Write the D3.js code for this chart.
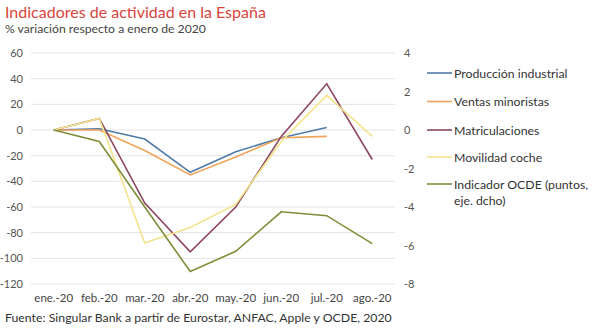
<!DOCTYPE html>
<html>
<head>
<meta charset="utf-8">
<script src="https://cdn.jsdelivr.net/npm/d3@7"></script>
<style>
  body { margin: 0; background: #fff; }
  svg text { font-family: Lato, 'Open Sans', sans-serif; }
</style>
</head>
<body>
<div class="graph"><svg></svg></div>
<script>
const months = ['ene.-20', 'feb.-20', 'mar.-20', 'abr.-20', 'may.-20', 'jun.-20', 'jul.-20', 'ago.-20']

// left axis series (% variation), null = no data
const produccion = [0, 1, -7, -33, -17, -6, 2, null]
const ventas = [0, 0, -16, -35, -21, -6, -5, null]
const matriculaciones = [0, 9, -57, -95, -60, -5, 36, -23]
const movilidad = [0, 9, -88, -76, -58, -9, 27, -5]
// right axis (points)
const ocde = [0, -0.6, -4.0, -7.35, -6.3, -4.25, -4.45, -5.9]

const leftTicks = [60, 40, 20, 0, -20, -40, -60, -80, -100, -120]
const rightTicks = [4, 2, 0, -2, -4, -6, -8]

const series = [
  { name: ['Producción industrial'], values: produccion, color: '#4f7ba8', axis: 'left' },
  { name: ['Ventas minoristas'], values: ventas, color: '#f0a358', axis: 'left' },
  { name: ['Matriculaciones'], values: matriculaciones, color: '#8c4660', axis: 'left' },
  { name: ['Movilidad coche'], values: movilidad, color: '#f3e48c', axis: 'left' },
  { name: ['Indicador OCDE (puntos,', 'eje. dcho)'], values: ocde, color: '#7e8e38', axis: 'right' }
]

const svg = d3.select('svg').attr('width', 600).attr('height', 331)

const x = d3.scaleBand().domain(months).range([31, 395])
const yL = d3.scaleLinear().domain([-120, 60]).range([284, 53])
const yR = d3.scaleLinear().domain([-8, 4]).range([284, 53])

// title
svg.append('text').text('Indicadores de actividad en la España')
  .attr('x', 5).attr('y', 18).attr('fill', '#d9443b').attr('font-size', 16)
svg.append('text').text('% variación respecto a enero de 2020')
  .attr('x', 5).attr('y', 33).attr('fill', '#444').attr('font-size', 12.2)

// gridlines
svg.append('g').selectAll('line').data(leftTicks).join('line')
  .attr('x1', 31).attr('x2', 395)
  .attr('y1', d => yL(d)).attr('y2', d => yL(d))
  .attr('stroke', '#e3e3e3').attr('stroke-width', 1)

// left axis
const leftAxis = svg.append('g').attr('transform', 'translate(23,0)')
  .call(d3.axisLeft(yL).tickValues(leftTicks).tickFormat(d => String(d)).tickSize(0).tickPadding(0))
leftAxis.select('.domain').remove()
leftAxis.selectAll('text').attr('fill', '#555').attr('font-size', 11)
  .style('font-family', 'Lato, sans-serif')

// right axis
const rightAxis = svg.append('g').attr('transform', 'translate(404,0)')
  .call(d3.axisRight(yR).tickValues(rightTicks).tickFormat(d => String(d)).tickSize(0).tickPadding(0))
rightAxis.select('.domain').remove()
rightAxis.selectAll('text').attr('fill', '#555').attr('font-size', 11)
  .style('font-family', 'Lato, sans-serif')

// x axis
const xAxis = svg.append('g').attr('transform', 'translate(0,290)')
  .call(d3.axisBottom(x).tickSize(0).tickPadding(4))
xAxis.select('.domain').remove()
xAxis.selectAll('text').attr('fill', '#444').attr('font-size', 11.5)
  .style('font-family', 'Lato, sans-serif')

// lines
const cx = m => x(m) + x.bandwidth() / 2
series.forEach(s => {
  const yS = s.axis === 'left' ? yL : yR
  const line = d3.line()
    .defined(d => d != null)
    .x((d, i) => cx(months[i]))
    .y(d => yS(d))
  svg.append('path').datum(s.values)
    .attr('d', line)
    .attr('fill', 'none')
    .attr('stroke', s.color)
    .attr('stroke-width', 1.6)
})

// legend
const legendY = [73, 101.5, 130, 157, 184]
series.forEach((s, i) => {
  const g = svg.append('g').attr('transform', `translate(427,${legendY[i]})`)
  g.append('line').attr('x1', 0).attr('x2', 25).attr('y1', 0).attr('y2', 0)
    .attr('stroke', s.color).attr('stroke-width', 1.6)
  s.name.forEach((t, j) => {
    g.append('text').text(t).attr('x', 27).attr('y', 4.5 + j * 16)
      .attr('fill', '#333').attr('font-size', 12.3)
  })
})

// source
svg.append('text').text('Fuente: Singular Bank a partir de Eurostar, ANFAC, Apple y OCDE, 2020')
  .attr('x', 5).attr('y', 322).attr('fill', '#333').attr('font-size', 12.3)
</script>
</body>
</html>
